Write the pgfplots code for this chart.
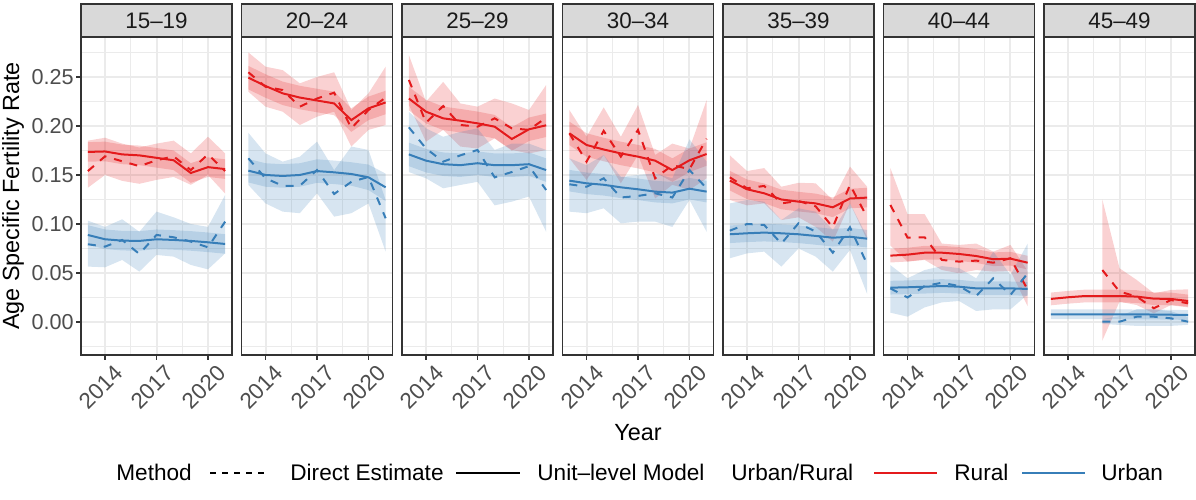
\documentclass[border=0pt]{standalone}
\usepackage{fontspec}
\setmainfont{Liberation Sans}
\usepackage{pgfplots}
\pgfplotsset{compat=1.18}
\usepackage{pgfplotstable}
\usepgfplotslibrary{fillbetween}

\definecolor{rural}{HTML}{E41A1C}
\definecolor{urban}{HTML}{377EB8}
\definecolor{gridc}{HTML}{EBEBEB}
\definecolor{frame}{HTML}{333333}
\definecolor{strip}{HTML}{D9D9D9}
\definecolor{ticktext}{HTML}{4D4D4D}
\definecolor{striptext}{HTML}{1A1A1A}

\newcommand{\tf}{\fontsize{10.8bp}{12bp}\selectfont}
\newcommand{\xf}{\fontsize{11.2bp}{12bp}\selectfont}
\newcommand{\lf}{\fontsize{11.3bp}{13bp}\selectfont}
\newcommand{\stf}{\fontsize{11.2bp}{13bp}\selectfont}

% model: rural (rm, lower, upper), urban (um, lower, upper)
\pgfplotstableread{
yr rm rml rmu um uml umu
2013 0.1735 0.1635 0.1835 0.0888 0.0788 0.0988
2014 0.1740 0.1640 0.1840 0.0844 0.0744 0.0944
2015 0.1710 0.1610 0.1810 0.0830 0.0730 0.0930
2016 0.1700 0.1600 0.1800 0.0827 0.0727 0.0927
2017 0.1675 0.1575 0.1775 0.0844 0.0744 0.0944
2018 0.1650 0.1550 0.1750 0.0837 0.0737 0.0937
2019 0.1520 0.1420 0.1620 0.0827 0.0727 0.0927
2020 0.1580 0.1480 0.1680 0.0813 0.0713 0.0913
2021 0.1560 0.1460 0.1660 0.0796 0.0696 0.0896
}\mA
\pgfplotstableread{
yr rd rdl rdu ud udl udu
2013 0.154 0.137 0.185 0.0793 0.0565 0.1034
2014 0.169 0.150 0.188 0.0769 0.0558 0.0970
2015 0.164 0.144 0.182 0.0837 0.0633 0.1048
2016 0.159 0.141 0.178 0.0694 0.0514 0.0920
2017 0.165 0.145 0.182 0.0888 0.0684 0.1126
2018 0.169 0.148 0.185 0.0864 0.0667 0.1068
2019 0.155 0.140 0.172 0.0820 0.0582 0.1000
2020 0.171 0.150 0.189 0.0762 0.0537 0.0970
2021 0.154 0.131 0.172 0.1024 0.0700 0.1296
}\dA
\pgfplotstableread{
yr rm rml rmu um uml umu
2013 0.2493 0.2373 0.2613 0.1544 0.1424 0.1664
2014 0.2408 0.2288 0.2528 0.1500 0.1380 0.1620
2015 0.2333 0.2213 0.2453 0.1490 0.1370 0.1610
2016 0.2290 0.2170 0.2410 0.1500 0.1380 0.1620
2017 0.2260 0.2140 0.2380 0.1540 0.1420 0.1660
2018 0.2230 0.2110 0.2350 0.1527 0.1407 0.1647
2019 0.2060 0.1940 0.2180 0.1510 0.1390 0.1630
2020 0.2180 0.2060 0.2300 0.1476 0.1346 0.1606
2021 0.2240 0.2120 0.2360 0.1374 0.1234 0.1514
}\mB
\pgfplotstableread{
yr rd rdl rdu ud udl udu
2013 0.2548 0.2350 0.2750 0.1670 0.1398 0.1930
2014 0.2400 0.2197 0.2605 0.1466 0.1210 0.1720
2015 0.2367 0.2146 0.2570 0.1390 0.1126 0.1636
2016 0.2197 0.2010 0.2435 0.1390 0.1110 0.1687
2017 0.2280 0.2095 0.2500 0.1550 0.1313 0.1840
2018 0.2340 0.2146 0.2548 0.1306 0.1075 0.1550
2019 0.1976 0.1790 0.2163 0.1430 0.1110 0.1790
2020 0.2163 0.1960 0.2333 0.1480 0.1210 0.1755
2021 0.2290 0.2010 0.2605 0.1058 0.0718 0.1245
}\dB
\pgfplotstableread{
yr rm rml rmu um uml umu
2013 0.2280 0.2160 0.2400 0.1710 0.1590 0.1830
2014 0.2146 0.2026 0.2266 0.1646 0.1526 0.1766
2015 0.2078 0.1958 0.2198 0.1610 0.1490 0.1730
2016 0.2054 0.1934 0.2174 0.1600 0.1480 0.1720
2017 0.2027 0.1907 0.2147 0.1620 0.1500 0.1740
2018 0.1993 0.1873 0.2113 0.1600 0.1480 0.1720
2019 0.1867 0.1747 0.1987 0.1600 0.1480 0.1720
2020 0.1966 0.1846 0.2086 0.1610 0.1490 0.1730
2021 0.2007 0.1887 0.2127 0.1550 0.1430 0.1670
}\mC
\pgfplotstableread{
yr rd rdl rdu ud udl udu
2013 0.2470 0.2214 0.2724 0.1986 0.1530 0.2146
2014 0.2034 0.1840 0.2248 0.1770 0.1466 0.1976
2015 0.2204 0.1960 0.2450 0.1636 0.1364 0.1890
2016 0.2010 0.1790 0.2230 0.1700 0.1398 0.1940
2017 0.1993 0.1770 0.2197 0.1755 0.1430 0.1976
2018 0.2078 0.1874 0.2280 0.1476 0.1190 0.1755
2019 0.1976 0.1755 0.2230 0.1530 0.1228 0.1820
2020 0.1960 0.1720 0.2163 0.1590 0.1280 0.1820
2021 0.2085 0.1755 0.2418 0.1347 0.0920 0.1755
}\dC
\pgfplotstableread{
yr rm rml rmu um uml umu
2013 0.1925 0.1805 0.2045 0.1442 0.1332 0.1552
2014 0.1806 0.1686 0.1926 0.1415 0.1305 0.1525
2015 0.1760 0.1640 0.1880 0.1400 0.1290 0.1510
2016 0.1720 0.1600 0.1840 0.1374 0.1264 0.1484
2017 0.1687 0.1567 0.1807 0.1354 0.1244 0.1464
2018 0.1646 0.1526 0.1766 0.1330 0.1220 0.1440
2019 0.1550 0.1430 0.1670 0.1320 0.1210 0.1430
2020 0.1650 0.1530 0.1770 0.1360 0.1250 0.1470
2021 0.1714 0.1594 0.1834 0.1330 0.1220 0.1440
}\mD
\pgfplotstableread{
yr rd rdl rdu ud udl udu
2013 0.1925 0.1670 0.2163 0.1405 0.1126 0.1670
2014 0.1636 0.1450 0.1890 0.1380 0.1110 0.1600
2015 0.1950 0.1704 0.2190 0.1466 0.1160 0.1704
2016 0.1687 0.1415 0.1890 0.1270 0.1007 0.1480
2017 0.1960 0.1704 0.2214 0.1286 0.1024 0.1500
2018 0.1466 0.1260 0.1704 0.1313 0.1024 0.1517
2019 0.1600 0.1400 0.1820 0.1270 0.0970 0.1466
2020 0.1560 0.1347 0.1770 0.1550 0.1245 0.1864
2021 0.1870 0.1466 0.2265 0.1364 0.0920 0.1636
}\dD
\pgfplotstableread{
yr rm rml rmu um uml umu
2013 0.1442 0.1342 0.1542 0.0895 0.0805 0.0985
2014 0.1354 0.1254 0.1454 0.0905 0.0815 0.0995
2015 0.1313 0.1213 0.1413 0.0912 0.0822 0.1002
2016 0.1250 0.1150 0.1350 0.0905 0.0815 0.0995
2017 0.1228 0.1128 0.1328 0.0895 0.0805 0.0985
2018 0.1210 0.1110 0.1310 0.0878 0.0788 0.0968
2019 0.1170 0.1070 0.1270 0.0860 0.0770 0.0950
2020 0.1260 0.1160 0.1360 0.0870 0.0780 0.0960
2021 0.1269 0.1169 0.1369 0.0850 0.0760 0.0940
}\mE
\pgfplotstableread{
yr rd rdl rdu ud udl udu
2013 0.1476 0.1245 0.1700 0.0932 0.0650 0.1210
2014 0.1364 0.1190 0.1540 0.1000 0.0700 0.1245
2015 0.1388 0.1210 0.1570 0.0990 0.0718 0.1228
2016 0.1210 0.1040 0.1380 0.0800 0.0565 0.1040
2017 0.1235 0.1068 0.1420 0.1007 0.0750 0.1160
2018 0.1180 0.0970 0.1415 0.0922 0.0667 0.1126
2019 0.0966 0.0820 0.1245 0.0707 0.0514 0.0939
2020 0.1400 0.1210 0.1585 0.0966 0.0735 0.1210
2021 0.1068 0.0837 0.1380 0.0590 0.0286 0.0870
}\dE
\pgfplotstableread{
yr rm rml rmu um uml umu
2013 0.0677 0.0607 0.0747 0.0350 0.0280 0.0420
2014 0.0687 0.0617 0.0757 0.0354 0.0284 0.0424
2015 0.0707 0.0637 0.0777 0.0360 0.0290 0.0430
2016 0.0707 0.0637 0.0777 0.0367 0.0297 0.0437
2017 0.0694 0.0624 0.0764 0.0360 0.0290 0.0430
2018 0.0673 0.0603 0.0743 0.0343 0.0273 0.0413
2019 0.0640 0.0570 0.0710 0.0343 0.0273 0.0413
2020 0.0646 0.0576 0.0716 0.0343 0.0273 0.0413
2021 0.0605 0.0535 0.0675 0.0337 0.0267 0.0407
}\mF
\pgfplotstableread{
yr rd rdl rdu ud udl udu
2013 0.1194 0.0780 0.1570 0.0343 0.0095 0.0580
2014 0.0860 0.0616 0.1100 0.0250 0.0054 0.0446
2015 0.0864 0.0633 0.1100 0.0367 0.0149 0.0530
2016 0.0633 0.0530 0.0800 0.0400 0.0200 0.0570
2017 0.0616 0.0497 0.0786 0.0367 0.0214 0.0550
2018 0.0626 0.0530 0.0800 0.0265 0.0112 0.0446
2019 0.0605 0.0514 0.0718 0.0446 0.0129 0.0718
2020 0.0650 0.0520 0.0786 0.0276 0.0129 0.0480
2021 0.0330 0.0160 0.0520 0.0497 0.0280 0.0800
}\dF
\pgfplotstableread{
yr rm rml rmu um uml umu
2013 0.0235 0.0170 0.0300 0.0078 0.0028 0.0128
2014 0.0252 0.0187 0.0317 0.0078 0.0028 0.0128
2015 0.0265 0.0200 0.0330 0.0078 0.0028 0.0128
2016 0.0265 0.0200 0.0330 0.0078 0.0028 0.0128
2017 0.0265 0.0200 0.0330 0.0078 0.0028 0.0128
2018 0.0259 0.0194 0.0324 0.0077 0.0027 0.0127
2019 0.0238 0.0173 0.0303 0.0076 0.0026 0.0126
2020 0.0235 0.0170 0.0300 0.0074 0.0024 0.0124
2021 0.0214 0.0149 0.0279 0.0071 0.0021 0.0121
}\mG
\pgfplotstableread{
yr rd rdl rdu ud udl udu
2016 0.0530 -0.0190 0.1250 0.0003 -0.0020 0.0030
2017 0.0310 0.0207 0.0548 0.0003 -0.0030 0.0060
2018 0.0259 0.0173 0.0429 0.0054 -0.0040 0.0130
2019 0.0140 0.0088 0.0293 0.0054 -0.0040 0.0130
2020 0.0224 0.0173 0.0327 0.0037 -0.0040 0.0110
2021 0.0190 0.0156 0.0333 0.0003 -0.0030 0.0050
}\dG

\pgfplotsset{
  panel/.style={
    scale only axis, width=75.5bp, height=159bp,
    xmin=2012.6, xmax=2021.4, ymin=-0.0337, ymax=0.2908,
    xtick={2014,2017,2020}, xticklabels={2014,2017,2020},
    minor xtick={2015.5,2018.5},
    ytick={0,0.05,0.10,0.15,0.20,0.25},
    minor ytick={-0.025,0.025,0.075,0.125,0.175,0.225,0.275},
    grid=both,
    major grid style={draw=gridc, line width=1bp},
    minor grid style={draw=gridc, line width=0.5bp},
    axis line style={draw=frame, line width=0.7bp},
    tick align=outside, major tick length=2.5bp,
    minor tick style={draw=none},
    major tick style={draw=frame, line width=0.7bp},
    xtick pos=left, ytick pos=left,
    xticklabel style={rotate=45, anchor=north east, inner sep=0.5bp,
      xshift=2bp, yshift=-3.5bp, font=\xf, text=ticktext},
    yticklabel style={inner sep=1bp, font=\tf, text=ticktext},
  },
  noy/.style={yticklabels={}, ytick style={draw=none}},
}

% #1 x position, #2 model table, #3 direct table, #4 label, #5 extra axis options
\newcommand{\panel}[5]{%
  \begin{axis}[panel, at={(#1,72.5bp)}, anchor=south west, #5]
    \addplot[draw=none, name path=rmu] table[x=yr, y=rmu] {#2};
    \addplot[draw=none, name path=rml] table[x=yr, y=rml] {#2};
    \addplot[fill=rural, fill opacity=0.2, draw=none] fill between[of=rmu and rml];
    \addplot[draw=none, name path=rdu] table[x=yr, y=rdu] {#3};
    \addplot[draw=none, name path=rdl] table[x=yr, y=rdl] {#3};
    \addplot[fill=rural, fill opacity=0.2, draw=none] fill between[of=rdu and rdl];
    \addplot[draw=none, name path=umu] table[x=yr, y=umu] {#2};
    \addplot[draw=none, name path=uml] table[x=yr, y=uml] {#2};
    \addplot[fill=urban, fill opacity=0.2, draw=none] fill between[of=umu and uml];
    \addplot[draw=none, name path=udu] table[x=yr, y=udu] {#3};
    \addplot[draw=none, name path=udl] table[x=yr, y=udl] {#3};
    \addplot[fill=urban, fill opacity=0.2, draw=none] fill between[of=udu and udl];
    \addplot[rural, line width=1bp, dash pattern=on 4bp off 4bp] table[x=yr, y=rd] {#3};
    \addplot[urban, line width=1bp, dash pattern=on 4bp off 4bp] table[x=yr, y=ud] {#3};
    \addplot[rural, line width=1bp] table[x=yr, y=rm] {#2};
    \addplot[urban, line width=1bp] table[x=yr, y=um] {#2};
  \end{axis}
  \draw[fill=strip, draw=frame, line width=0.7bp] (#1,231.5bp) rectangle ++(75.5bp,16.5bp);
  \path (#1,231.5bp) ++(37.75bp,8.25bp) node[font=\stf, text=striptext] {#4};
}

\begin{document}
\begin{tikzpicture}

\panel{40.5bp}{\mA}{\dA}{15–19}{yticklabels={0.00,0.05,0.10,0.15,0.20,0.25},
  ylabel={Age Specific Fertility Rate},
  ylabel style={at={(axis description cs:-0.450,0.5)}, anchor=center, font=\fontsize{11.7bp}{13bp}\selectfont}}
\panel{120.75bp}{\mB}{\dB}{20–24}{noy}
\panel{201bp}{\mC}{\dC}{25–29}{noy}
\panel{281.25bp}{\mD}{\dD}{30–34}{noy, xlabel={Year},
  xlabel style={at={(axis description cs:0.5,-0.245)}, anchor=center, font=\fontsize{11.7bp}{13bp}\selectfont}}
\panel{361.5bp}{\mE}{\dE}{35–39}{noy}
\panel{441.75bp}{\mF}{\dF}{40–44}{noy}
\panel{522bp}{\mG}{\dG}{45–49}{noy}

% legend
\begin{scope}[font=\lf]
  \node[anchor=base west, inner sep=0] at (58bp,9.6bp) {Method};
  \draw[black, line width=1bp, dash pattern=on 3bp off 3bp] (105bp,13.3bp) -- (134bp,13.3bp);
  \node[anchor=base west, inner sep=0] at (145bp,9.6bp) {Direct Estimate};
  \draw[black, line width=1bp] (228bp,13.3bp) -- (260bp,13.3bp);
  \node[anchor=base west, inner sep=0] at (268.5bp,9.6bp) {Unit–level Model};
  \node[anchor=base west, inner sep=0] at (365.5bp,9.6bp) {Urban/Rural};
  \draw[rural, line width=1bp] (437bp,13.3bp) -- (468.5bp,13.3bp);
  \node[anchor=base west, inner sep=0] at (477bp,9.6bp) {Rural};
  \draw[urban, line width=1bp] (511bp,13.3bp) -- (542.5bp,13.3bp);
  \node[anchor=base west, inner sep=0] at (550.5bp,9.6bp) {Urban};
\end{scope}

\pgfresetboundingbox
\path[use as bounding box] (0,0) rectangle (598bp,250bp);
\end{tikzpicture}
\end{document}
